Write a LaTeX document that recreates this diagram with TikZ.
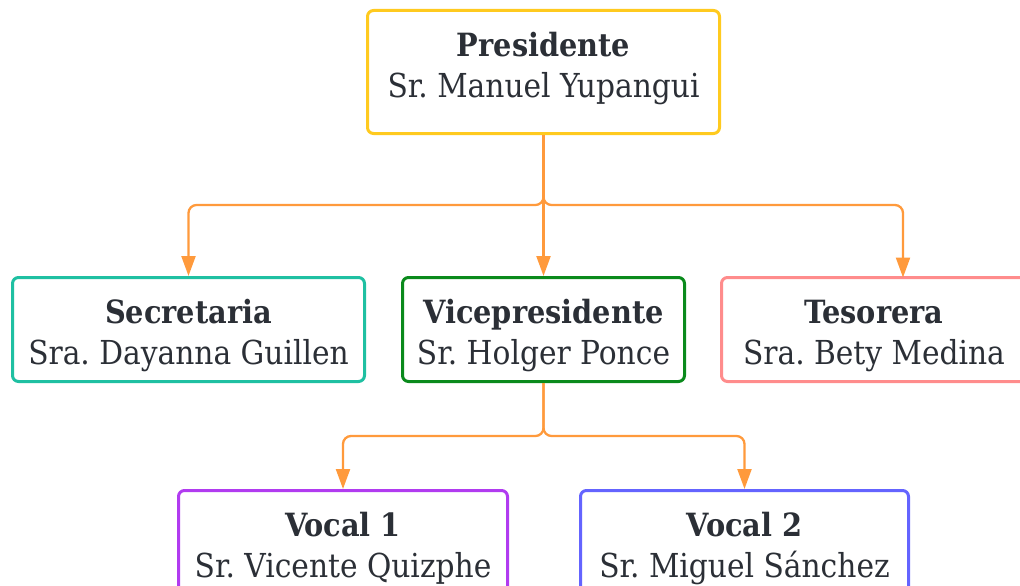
\documentclass[tikz,border=0pt]{standalone}
\usepackage{fontspec}
\setmainfont{DejaVu Serif Condensed}
\usetikzlibrary{arrows.meta}
\definecolor{txt}{HTML}{2B2F36}
\definecolor{cpres}{HTML}{FFCA1F}
\definecolor{csec}{HTML}{1FC0A2}
\definecolor{cvice}{HTML}{0A8A1C}
\definecolor{ctes}{HTML}{FF8C8C}
\definecolor{cvoc1}{HTML}{B13BF0}
\definecolor{cvoc2}{HTML}{6464FF}
\definecolor{corange}{HTML}{FF9A3C}
\newcommand{\ttl}[1]{{\fontsize{32}{41}\selectfont\bfseries #1}}
\begin{document}
\frenchspacing
\begin{tikzpicture}[x=1pt,y=-1pt,
  box/.style={draw, line width=3pt, rounded corners=6pt, fill=white, inner sep=0pt},
  lbl/.style={align=center, inner sep=0pt, text=txt, font=\fontsize{33}{41}\selectfont},
  conn/.style={draw=corange, line width=2.3pt, rounded corners=8pt,
    -{Triangle[length=20pt,width=14pt]}}]
\path[use as bounding box] (0,0) rectangle (1020,586);
\clip (0,0) rectangle (1020,586);
\node[box, draw=cpres, minimum width=352pt, minimum height=123pt] (pres) at (543.5,72) {};
\node[box, draw=csec, minimum width=352pt, minimum height=104pt] (sec) at (188.5,329.5) {};
\node[box, draw=cvice, minimum width=282pt, minimum height=104pt] (vice) at (543.5,329.5) {};
\node[box, draw=ctes, minimum width=305pt, minimum height=104pt] (tes) at (874,329.5) {};
\node[box, draw=cvoc1, minimum width=329pt, minimum height=104pt] (voc1) at (343,542.5) {};
\node[box, draw=cvoc2, minimum width=328pt, minimum height=104pt] (voc2) at (744.5,542.5) {};
\node[lbl] (presT) at ([yshift=-59.5pt]pres.north) {\ttl{Presidente}\\Sr. Manuel Yupangui};
\node[lbl] (secT) at ([yshift=-60pt]sec.north) {\ttl{Secretaria}\\Sra. Dayanna Guillen};
\node[lbl] (viceT) at ([yshift=-60pt]vice.north) {\ttl{Vicepresidente}\\Sr. Holger Ponce};
\node[lbl] (tesT) at ([yshift=-60pt]tes.north) {\ttl{Tesorera}\\Sra. Bety Medina};
\node[lbl] (voc1T) at ([yshift=-59.5pt]voc1.north) {\ttl{Vocal 1}\\Sr. Vicente Quizphe};
\node[lbl] (voc2T) at ([yshift=-59.5pt]voc2.north) {\ttl{Vocal 2}\\Sr. Miguel Sánchez};
\coordinate (j1) at (543.5,205);
\coordinate (j2) at (543.5,436);
\coordinate (tesin) at (903,277.5);
\draw[conn] (pres.south) -- (pres.south |- j1) -| (sec.north);
\draw[conn] (pres.south) -- (vice.north);
\draw[conn] (pres.south) -- (pres.south |- j1) -| (tesin);
\draw[conn] (vice.south) -- (vice.south |- j2) -| (voc1.north);
\draw[conn] (vice.south) -- (vice.south |- j2) -| (voc2.north);
\end{tikzpicture}
\end{document}
